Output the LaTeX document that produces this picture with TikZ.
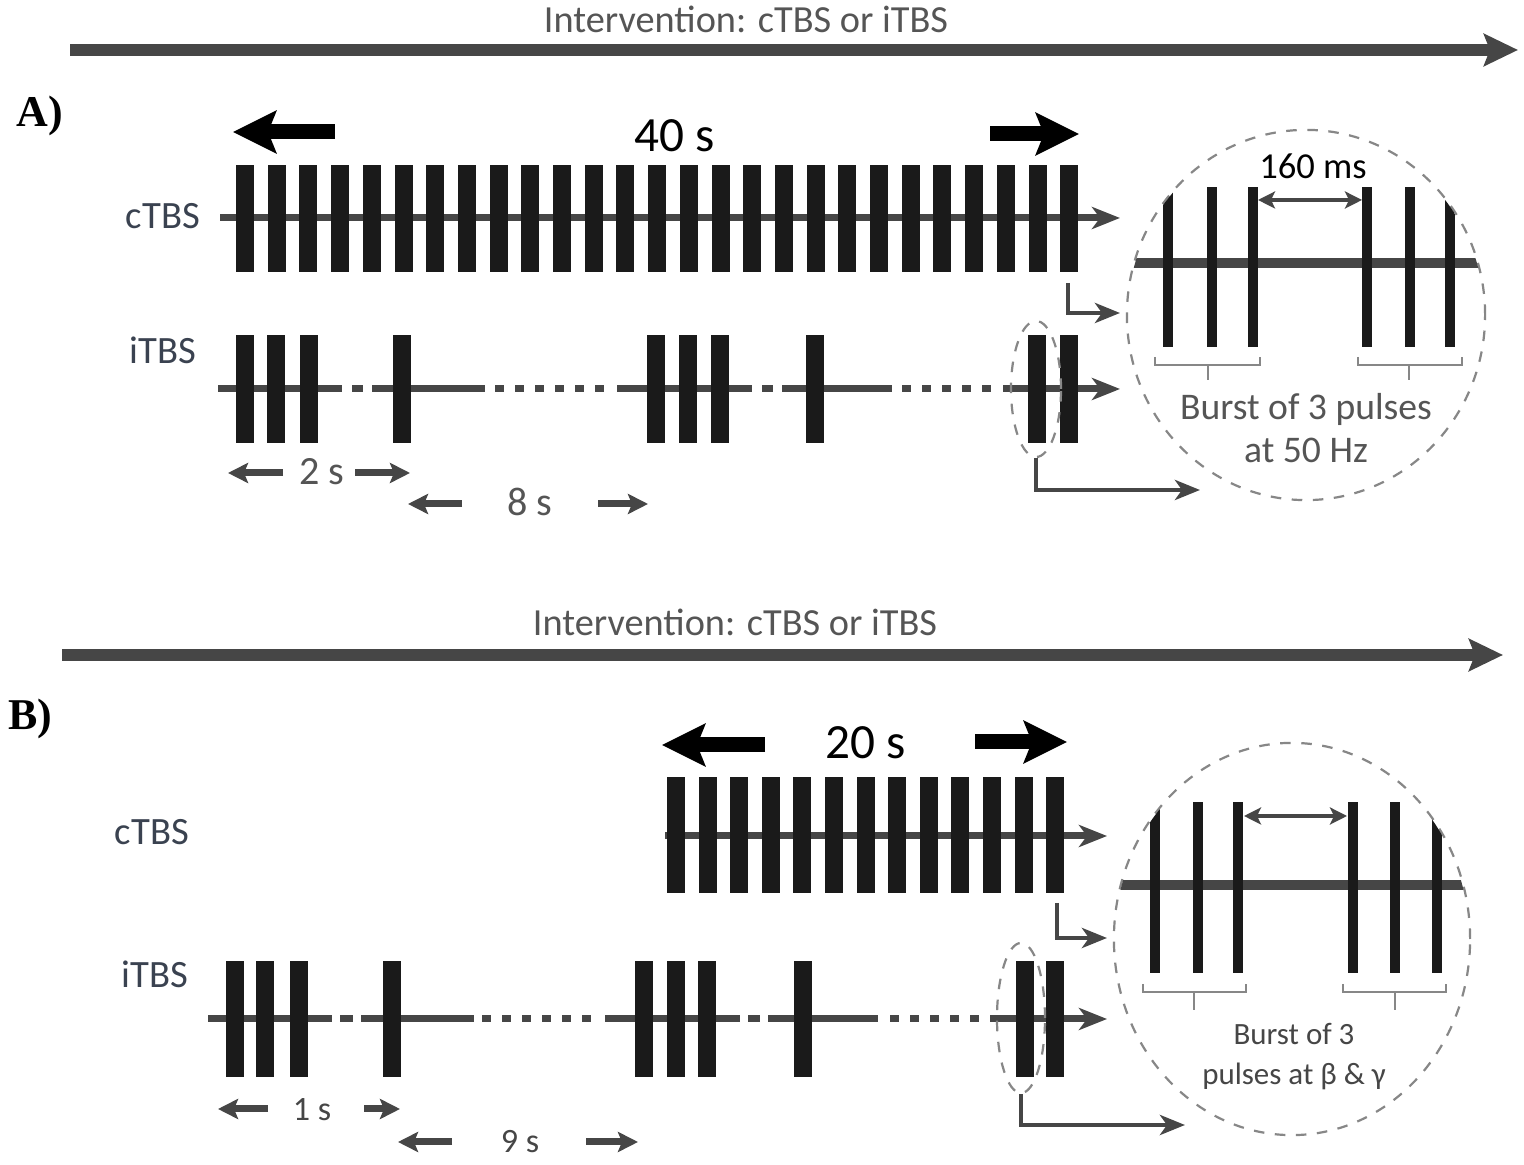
\documentclass[tikz,border=0pt]{standalone}
\usepackage{fontspec}
\setmainfont{Carlito}
\newfontfamily\panelfont{Liberation Serif}
\usetikzlibrary{arrows.meta,positioning,shapes.geometric}
\definecolor{ink}{RGB}{26,26,26}
\definecolor{axisgray}{RGB}{70,70,70}
\definecolor{lblgray}{RGB}{58,66,80}
\definecolor{textgray}{RGB}{85,85,85}
\definecolor{dashgray}{RGB}{135,135,135}
\tikzset{
  pulse/.style={fill=ink},
  axis/.style={draw=axisgray,line width=0.07cm},
  dots/.style={axis,dash pattern=on 0.09cm off 0.11cm},
  axisend/.style={axis,-{Stealth[length=0.28cm,width=0.22cm,inset=0.08cm]}},
  timeline/.style={draw=axisgray,line width=0.12cm,-{Stealth[length=0.34cm,width=0.32cm,inset=0.06cm]}},
  fat/.style={draw=black,line width=0.15cm,-{Stealth[length=0.43cm,width=0.42cm,inset=0.08cm]}},
  gap/.style={draw=axisgray,line width=0.07cm,-{Stealth[length=0.2cm,width=0.2cm,inset=0.04cm]}},
  elbow/.style={draw=axisgray,line width=0.045cm,-{Stealth[length=0.25cm,width=0.2cm,inset=0.07cm]}},
  span/.style={draw=axisgray,line width=0.045cm,{Stealth[length=0.17cm,width=0.17cm,inset=0.04cm]}-{Stealth[length=0.17cm,width=0.17cm,inset=0.04cm]}},
  lens/.style={ellipse,draw=dashgray,dashed,line width=0.022cm,inner sep=0pt},
  bracket/.style={draw=dashgray,line width=0.02cm},
  intv/.style={text=textgray,inner sep=0pt,font=\fontsize{10.9}{13}\selectfont},
  seq/.style={text=lblgray,inner sep=0pt,font=\fontsize{11}{13}\selectfont},
  dur/.style={text=black,inner sep=0pt,font=\fontsize{14}{16}\selectfont},
  gaplbl/.style={text=textgray,inner sep=0pt,font=\fontsize{11.4}{13}\selectfont},
  panel/.style={inner sep=0pt,font=\panelfont\bfseries\fontsize{12.5}{14}\selectfont},
}
\begin{document}
\begin{tikzpicture}[x=0.01cm,y=-0.01cm]
    \useasboundingbox[fill=white] (0,0) rectangle (1524,1165);

    % panel A
    \node[intv] (intA) at (746,19) {Intervention: cTBS or iTBS};
    \draw[timeline] (70,50) -- (1518,50);
    \node[panel] (panA) at (40,116) {A)};
    \node[dur] (durA) at (675,136) {40 s};
    \draw[fat] (335,132) -- (233,132);
    \draw[fat] (990,134) -- (1079,134);

    \node[seq] (cA) at (163,216) {cTBS};
    \draw[axisend] (220,218) -- (1120,218);
    \foreach \k in {0,...,26}
        \fill[pulse] ({236+31.7*\k},165) rectangle +(18,107);

    \node[seq] (iA) at (163,350) {iTBS};
    \draw[axis] (218,389) -- (342,389);
    \draw[axis] (352,389) -- (363,389);
    \draw[axis] (372,389) -- (485,389);
    \draw[dots] (495,389) -- (607,389);
    \draw[axis] (617,389) -- (752,389);
    \draw[axis] (762,389) -- (773,389);
    \draw[axis] (782,389) -- (892,389);
    \draw[dots] (902,389) -- (994,389);
    \draw[axisend] (1003,389) -- (1120,389);
    \foreach \x in {236,267,300,393,647,679,711,806,1028,1060}
        \fill[pulse] (\x,335) rectangle +(18,108);

    \node[gaplbl] (twoS) at (322,472) {2 s};
    \draw[gap] (283,473) -- (228,473);
    \draw[gap] (355,473) -- (410,473);
    \node[gaplbl] (eightS) at (530,502) {8 s};
    \draw[gap] (462,504) -- (408,504);
    \draw[gap] (598,504) -- (648,504);

    \node[lens,minimum width=0.5cm,minimum height=1.36cm] (lensA) at (1036,389) {};
    \coordinate (tailA) at (1068,283);
    \draw[elbow] (tailA) |- (1120,313);
    \draw[elbow] (lensA.south) |- (1200,490);

    \node[lens,minimum width=3.58cm,minimum height=3.7cm] (magA) at (1306,315) {};
    \begin{scope}
        \clip (1306,315) ellipse [x radius=1.78cm,y radius=1.84cm];
        \draw[draw=axisgray,line width=0.1cm] (1120,263) -- (1490,263);
        \foreach \x in {1168,1212,1253,1367,1410,1450}
            \fill[pulse] ({\x-5},187) rectangle ({\x+5},347);
    \end{scope}
    \draw[span] (1258,200) -- (1362,200);
    \node[gaplbl,text=black,font=\fontsize{10.4}{12}\selectfont] (msA) at (1313,166) {160 ms};
    \draw[bracket] (1155,357) |- (1260,365) -- (1260,357);
    \draw[bracket] (1208,365) -- (1208,380);
    \draw[bracket] (1358,357) |- (1462,365) -- (1462,357);
    \draw[bracket] (1409,365) -- (1409,380);
    \node[gaplbl,align=center,font=\fontsize{10.7}{12}\selectfont] (burstA) at (1306,428) {Burst of 3 pulses\\at 50 Hz};

    % panel B
    \node[intv] (intB) at (735,622) {Intervention: cTBS or iTBS};
    \draw[timeline] (62,655) -- (1503,655);
    \node[panel] (panB) at (30,719) {B)};
    \node[dur] (durB) at (866,743) {20 s};
    \draw[fat] (765,745) -- (662,745);
    \draw[fat] (975,742) -- (1067,742);

    \node[seq] (cB) at (152,832) {cTBS};
    \draw[axisend] (665,836) -- (1107,836);
    \foreach \k in {0,...,12}
        \fill[pulse] ({667+31.6*\k},777) rectangle +(18,116);

    \node[seq] (iB) at (155,974) {iTBS};
    \draw[axis] (208,1019) -- (332,1019);
    \draw[axis] (340,1019) -- (353,1019);
    \draw[axis] (361,1019) -- (474,1019);
    \draw[dots] (482,1019) -- (597,1019);
    \draw[axis] (605,1019) -- (740,1019);
    \draw[axis] (748,1019) -- (760,1019);
    \draw[axis] (768,1019) -- (878,1019);
    \draw[dots] (890,1019) -- (980,1019);
    \draw[axisend] (990,1019) -- (1107,1019);
    \foreach \x in {226,256,290,383,635,667,698,794,1016,1046}
        \fill[pulse] (\x,961) rectangle +(18,116);

    \node[gaplbl,font=\fontsize{9.7}{11}\selectfont,text=axisgray] (oneS) at (312,1110) {1 s};
    \draw[gap] (268,1109) -- (218,1109);
    \draw[gap] (364,1109) -- (400,1109);
    \node[gaplbl,font=\fontsize{9.7}{11}\selectfont,text=axisgray] (nineS) at (520,1142) {9 s};
    \draw[gap] (452,1142) -- (398,1142);
    \draw[gap] (586,1142) -- (638,1142);

    \node[lens,minimum width=0.48cm,minimum height=1.5cm] (lensB) at (1021,1018) {};
    \coordinate (tailB) at (1057,903);
    \draw[elbow] (tailB) |- (1107,938);
    \draw[elbow] (lensB.south) |- (1185,1125);

    \node[lens,minimum width=3.56cm,minimum height=3.92cm] (magB) at (1292,939) {};
    \begin{scope}
        \clip (1292,939) ellipse [x radius=1.77cm,y radius=1.95cm];
        \draw[draw=axisgray,line width=0.1cm] (1100,885) -- (1480,885);
        \foreach \x in {1155,1198,1238,1353,1395,1437}
            \fill[pulse] ({\x-5},802) rectangle ({\x+5},973);
    \end{scope}
    \draw[span] (1244,816) -- (1347,816);
    \draw[bracket] (1143,984) |- (1246,992) -- (1246,984);
    \draw[bracket] (1194,992) -- (1194,1010);
    \draw[bracket] (1343,984) |- (1446,992) -- (1446,984);
    \draw[bracket] (1395,992) -- (1395,1010);
    \node[gaplbl,align=center,text=axisgray,font=\fontsize{8.8}{11.4}\selectfont] (burstB) at (1294,1057) {Burst of 3\\pulses at β \& γ};
\end{tikzpicture}
\end{document}
